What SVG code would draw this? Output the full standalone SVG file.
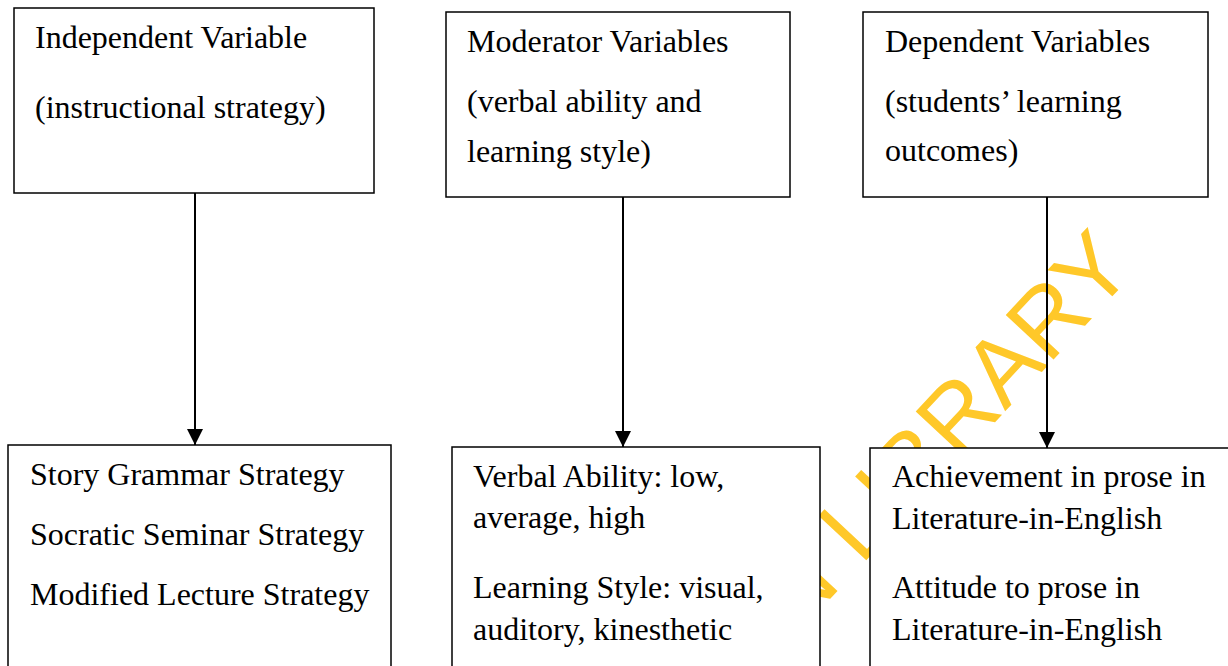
<svg xmlns="http://www.w3.org/2000/svg" width="1228" height="666" viewBox="0 0 1228 666">
  <style>
    .box { fill: #ffffff; stroke: #000000; stroke-width: 1.5; }
    .lbl { font-family: "Liberation Serif", "Times New Roman", serif; font-size: 32px; fill: #000000; }
    .edge { stroke: #000000; stroke-width: 2; fill: none; marker-end: url(#arrow); }
    .mark { font-family: "Liberation Sans", Arial, sans-serif; font-size: 95px; fill: #FFC829; }
  </style>
  <defs>
    <marker id="arrow" viewBox="0 0 16 16" refX="16" refY="8" markerWidth="16" markerHeight="16" markerUnits="userSpaceOnUse" orient="auto">
      <path d="M0,0 L16,8 L0,16 Z" fill="#000000"/>
    </marker>
  </defs>

  <rect width="1228" height="666" fill="#ffffff"/>

  <!-- diagonal library stamp, sits beneath the boxes -->
  <text class="mark" x="1137" y="270" text-anchor="end" transform="rotate(-47 1137 270)">IBADAN LIBRARY</text>

  <g id="connectors">
    <line class="edge" x1="195" y1="193" x2="195" y2="445"/>
    <line class="edge" x1="623" y1="197" x2="623" y2="447"/>
    <line class="edge" x1="1047" y1="197" x2="1047" y2="448"/>
  </g>

  <g id="independent">
    <rect class="box" x="14" y="8" width="360" height="185"/>
    <text class="lbl" x="35" y="48">Independent Variable</text>
    <text class="lbl" x="35" y="118">(instructional strategy)</text>
  </g>

  <g id="moderator">
    <rect class="box" x="446" y="12" width="344" height="185"/>
    <text class="lbl" x="467" y="52">Moderator Variables</text>
    <text class="lbl" x="467" y="112">(verbal ability and</text>
    <text class="lbl" x="467" y="162">learning style)</text>
  </g>

  <g id="dependent">
    <rect class="box" x="863" y="12" width="345" height="185"/>
    <text class="lbl" x="885" y="52">Dependent Variables</text>
    <text class="lbl" x="885" y="112">(students’ learning</text>
    <text class="lbl" x="885" y="161">outcomes)</text>
  </g>

  <g id="strategies">
    <rect class="box" x="8" y="445" width="383" height="240"/>
    <text class="lbl" x="30" y="485">Story Grammar Strategy</text>
    <text class="lbl" x="30" y="545">Socratic Seminar Strategy</text>
    <text class="lbl" x="30" y="605">Modified Lecture Strategy</text>
  </g>

  <g id="moderator-levels">
    <rect class="box" x="452" y="447" width="368" height="240"/>
    <text class="lbl" x="473" y="487">Verbal Ability: low,</text>
    <text class="lbl" x="473" y="528">average, high</text>
    <text class="lbl" x="473" y="598">Learning Style: visual,</text>
    <text class="lbl" x="473" y="640">auditory, kinesthetic</text>
  </g>

  <g id="outcomes">
    <rect class="box" x="870" y="448" width="370" height="240"/>
    <text class="lbl" x="892" y="487">Achievement in prose in</text>
    <text class="lbl" x="892" y="529">Literature-in-English</text>
    <text class="lbl" x="892" y="598">Attitude to prose in</text>
    <text class="lbl" x="892" y="640">Literature-in-English</text>
  </g>
</svg>
